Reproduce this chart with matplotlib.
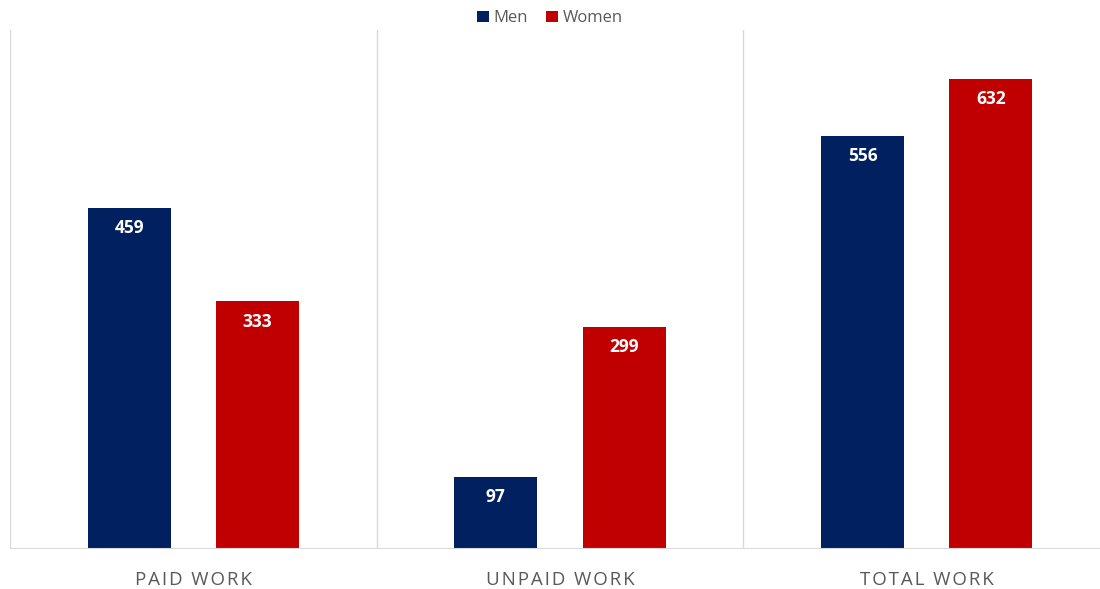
import matplotlib
matplotlib.use("Agg")
import matplotlib.pyplot as plt
import numpy as np

categories = ["PAID WORK", "UNPAID WORK", "TOTAL WORK"]
men = [459, 97, 556]
women = [333, 299, 632]

NAVY = "#002060"
RED = "#C00000"
GRID = "#d9d9d9"

fig = plt.figure(figsize=(11, 5.89), dpi=100)
ax = fig.add_axes([10 / 1100, 40 / 589, 1100 / 1100, 519 / 589])

x = np.arange(len(categories))
off, w = 0.175, 0.226
b1 = ax.bar(x - off, men, w, color=NAVY, label="Men")
b2 = ax.bar(x + off, women, w, color=RED, label="Women")

for bars in (b1, b2):
    for r in bars:
        ax.annotate(f"{int(r.get_height())}", (r.get_x() + r.get_width() / 2, r.get_height()),
                    xytext=(0, -14.5), textcoords="offset points", ha="center", va="center",
                    color="white", fontsize=12.5, fontweight="bold", family="Open Sans")

ax.set_ylim(0, 698)
ax.set_xlim(-0.5, 2.5)
for b in [-0.5, 0.5, 1.5, 2.5]:
    ax.axvline(b, color=GRID, lw=1, zorder=0)
ax.axhline(0, color=GRID, lw=1.5, zorder=3)

for s in ax.spines.values():
    s.set_visible(False)
ax.set_yticks([])
ax.set_xticks(x)
# letter-spaced category labels
spaced = ["\u200a".join(c) for c in categories]
ax.set_xticklabels(spaced, color="#595959", fontsize=13.5,
                   family=["Open Sans", "DejaVu Sans"])
ax.tick_params(axis="x", length=0, pad=16)

fig.legend(loc="upper center", bbox_to_anchor=(0.5, 1.008), ncol=2, frameon=False,
           handlelength=0.7, handleheight=0.7, handletextpad=0.3, columnspacing=1.1,
           prop={"family": "Open Sans", "size": 12}, labelcolor="#595959")

fig.savefig("out.png")
